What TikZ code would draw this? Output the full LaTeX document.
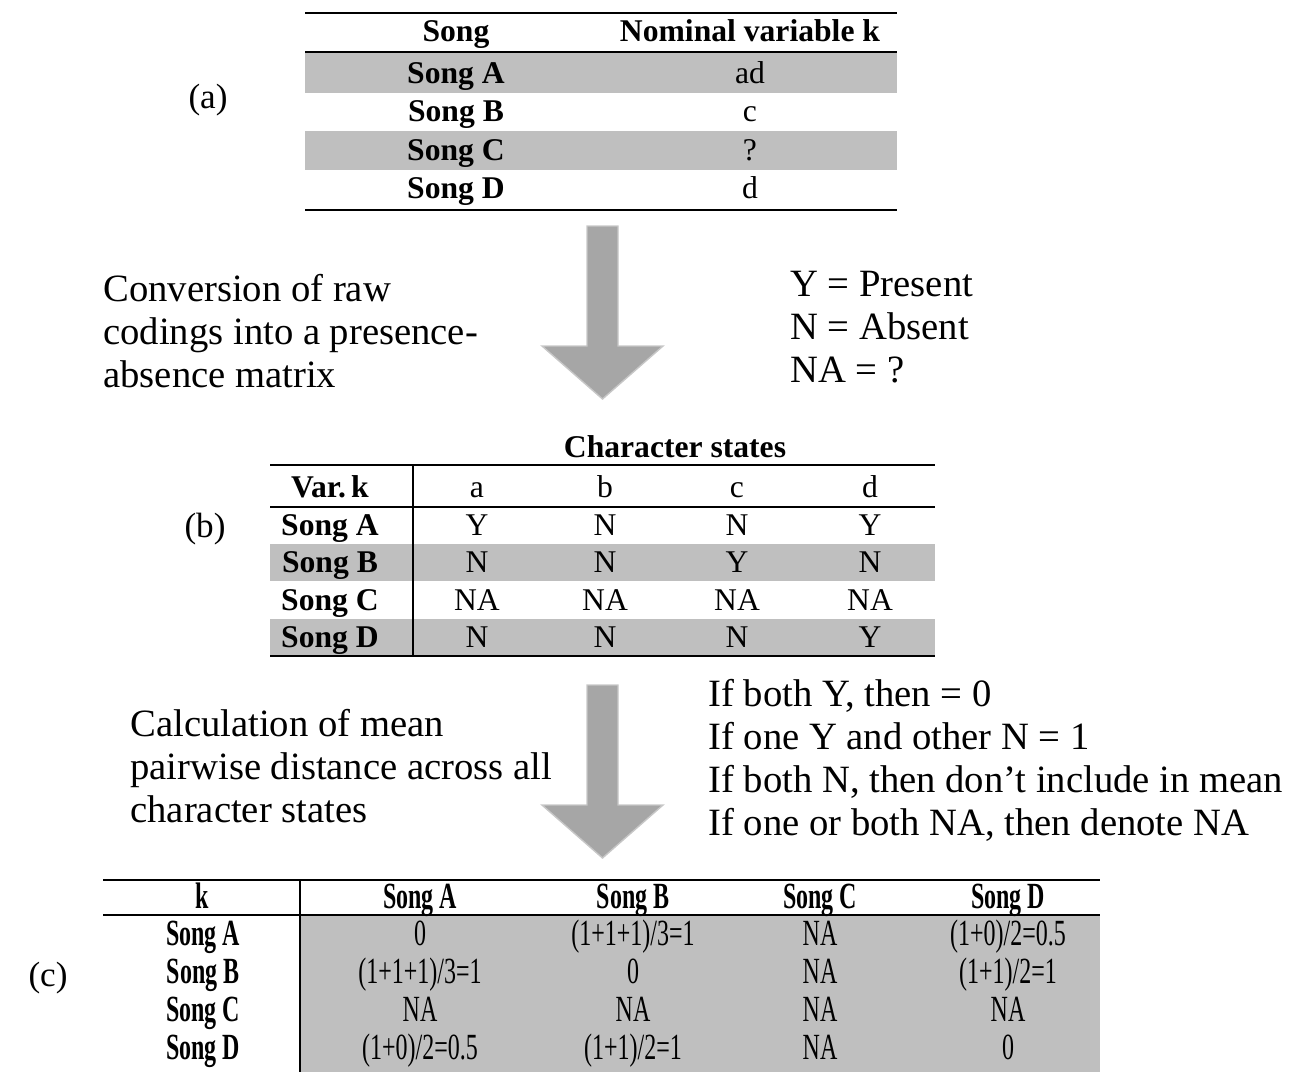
\documentclass[tikz,border=0pt]{standalone}
\usepackage{fontspec}
\setmainfont{Liberation Serif}
\newfontfamily\narrowserif[FakeStretch=0.65]{Liberation Serif}
\usetikzlibrary{positioning}

\begin{document}
\begin{tikzpicture}[
  x=0.02cm, y=-0.02cm,
  cell/.style={anchor=base, inner sep=0pt, font=\fontsize{18}{22}\selectfont},
  head/.style={cell, font=\fontsize{18}{22}\selectfont\bfseries},
  ncell/.style={anchor=base, inner sep=0pt, font=\fontsize{21}{24}\selectfont\narrowserif},
  nhead/.style={ncell, font=\fontsize{21}{24}\selectfont\narrowserif\bfseries},
  note/.style={anchor=north west, inner sep=0pt, align=left, font=\fontsize{22}{24.5}\selectfont},
  tag/.style={anchor=base, inner sep=0pt, font=\fontsize{20}{24}\selectfont},
  band/.style={fill=black!25, draw=none},
  toprule/.style={line width=1.2pt},
  midrule/.style={line width=0.7pt},
  bigarrow/.style={fill=black!35, draw=black!22, line width=0.8pt},
]
  \useasboundingbox (0,0) rectangle (1302,1072);

  % (a) raw codings
  \fill[band] (305,53) rectangle (897,93);
  \fill[band] (305,131) rectangle (897,170);
  \draw[toprule] (305,13) -- (897,13);
  \draw[midrule] (305,52) -- (897,52);
  \draw[toprule] (305,210) -- (897,210);
  \node[head] (songhead) at (456,41) {Song};
  \node[head] (nomhead) at (750,41) {Nominal variable k};
  \foreach \s/\v [count=\i] in {A/ad,B/c,C/?,D/d} {
    \node[head] (raw\s) at (456,{44.5+38.5*\i}) {Song \s};
    \node[cell] (code\s) at (750,{44.5+38.5*\i}) {\v};
  }
  \node[tag] (taga) at (208,108) {(a)};

  % first step
  \filldraw[bigarrow] (587,226) -- (618,226) -- (618,346) -- (663,346)
    -- (602.5,399) -- (542,346) -- (587,346) -- cycle;
  \node[note] (convtext) at (103,274) {Conversion of raw\\codings into a presence-\\absence matrix};
  \node[note] (keytext) at (790,271) {Y = Present\\N = Absent\\NA = ?};

  % (b) presence-absence matrix
  \fill[band] (270,544) rectangle (935,581);
  \fill[band] (270,619) rectangle (935,655);
  \draw[toprule] (270,465) -- (935,465);
  \draw[midrule] (270,507) -- (935,507);
  \draw[toprule] (270,656) -- (935,656);
  \draw[toprule] (413,465) -- (413,656);
  \node[head] (charhead) at (675,457) {Character states};
  \node[head] (varhead) at (330,497) {Var.\,k};
  \foreach \c/\x in {a/477,b/605,c/737,d/870}
    \node[cell] (state\c) at (\x,497) {\c};
  \foreach \s/\va/\vb/\vc/\vd [count=\i] in {A/Y/N/N/Y,B/N/N/Y/N,C/NA/NA/NA/NA,D/N/N/N/Y} {
    \node[head] (pa\s) at (330,{497.5+37.5*\i}) {Song \s};
    \node[cell] (pa\s a) at (477,{497.5+37.5*\i}) {\va};
    \node[cell] (pa\s b) at (605,{497.5+37.5*\i}) {\vb};
    \node[cell] (pa\s c) at (737,{497.5+37.5*\i}) {\vc};
    \node[cell] (pa\s d) at (870,{497.5+37.5*\i}) {\vd};
  }
  \node[tag] (tagb) at (205,537) {(b)};

  % second step
  \filldraw[bigarrow] (587,685) -- (618,685) -- (618,805) -- (663,805)
    -- (602.5,858) -- (542,805) -- (587,805) -- cycle;
  \node[note] (calctext) at (130,709) {Calculation of mean\\pairwise distance across all\\character states};
  \node[note] (ruletext) at (708,679) {If both Y, then = 0\\If one Y and other N = 1\\If both N, then don’t include in mean\\If one or both NA, then denote NA};

  % (c) distance matrix
  \fill[band] (300,915) rectangle (1100,1072);
  \draw[toprule] (103,880) -- (1100,880);
  \draw[midrule] (103,915) -- (1100,915);
  \draw[toprule] (300,880) -- (300,1072);
  \node[nhead] (khead) at (202,908) {k};
  \foreach \s/\x in {A/420,B/633,C/820,D/1008}
    \node[nhead] (col\s) at (\x,908) {Song \s};
  \foreach \s/\va/\vb/\vc/\vd [count=\i] in {A/0/(1+1+1)\slash 3=1/NA/(1+0)\slash 2=0.5,
      B/(1+1+1)\slash 3=1/0/NA/(1+1)\slash 2=1,
      C/NA/NA/NA/NA,
      D/(1+0)\slash 2=0.5/(1+1)\slash 2=1/NA/0} {
    \node[nhead] (dist\s) at (203,{907+38*\i}) {Song \s};
    \node[ncell] (dist\s a) at (420,{907+38*\i}) {\va};
    \node[ncell] (dist\s b) at (633,{907+38*\i}) {\vb};
    \node[ncell] (dist\s c) at (820,{907+38*\i}) {\vc};
    \node[ncell] (dist\s d) at (1008,{907+38*\i}) {\vd};
  }
  \node[tag] (tagc) at (48,986) {(c)};
\end{tikzpicture}
\end{document}
